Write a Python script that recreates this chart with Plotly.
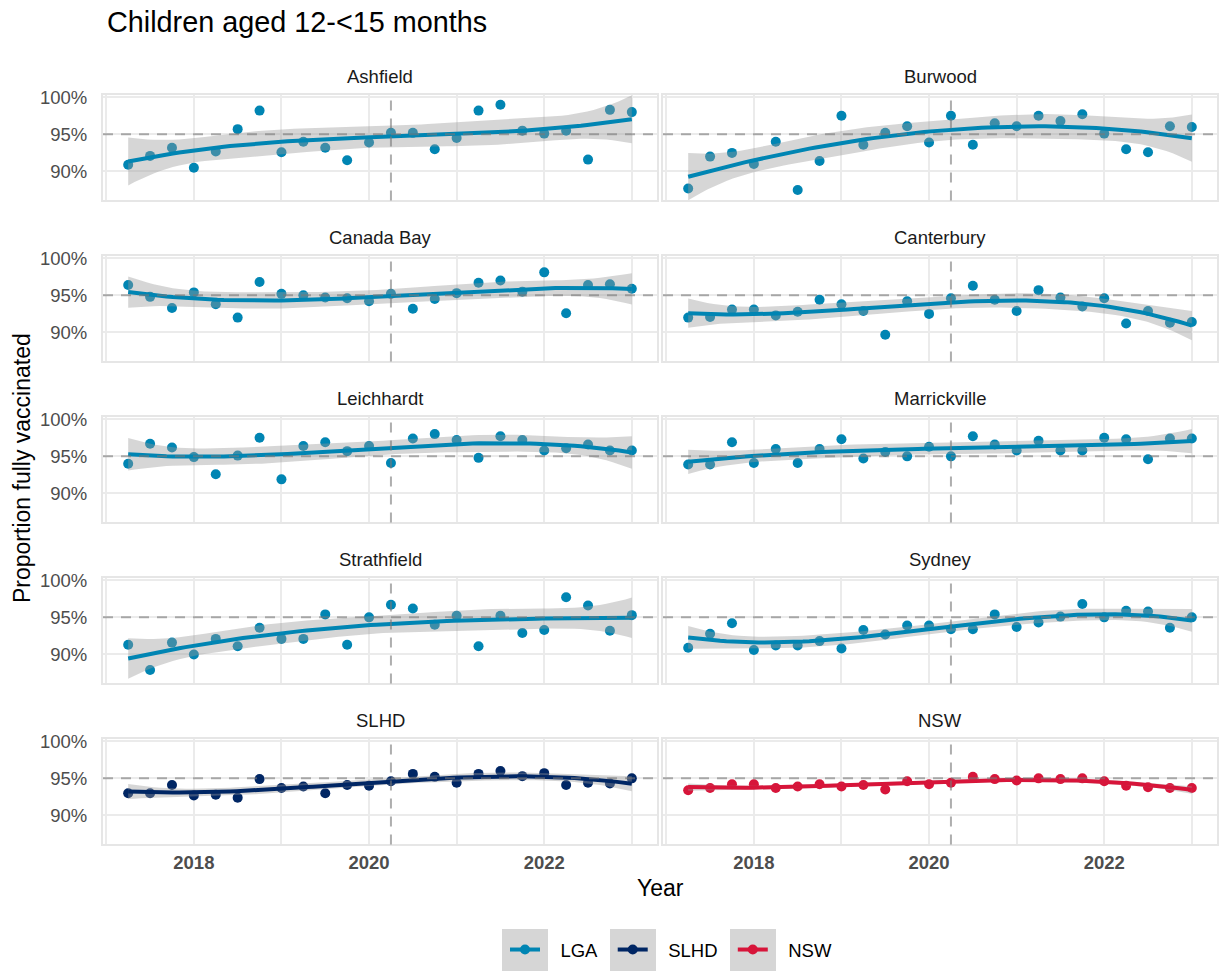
import numpy as np
import plotly.graph_objects as go
from plotly.subplots import make_subplots

# Reporting quarters (decimal years, Mar-2017 .. Dec-2022 quarter ends)
quarters = [2017.25, 2017.50, 2017.75, 2018.00, 2018.25, 2018.50, 2018.75, 2019.00,
            2019.25, 2019.50, 2019.75, 2020.00, 2020.25, 2020.50, 2020.75, 2021.00,
            2021.25, 2021.50, 2021.75, 2022.00, 2022.25, 2022.50, 2022.75, 2023.00]

# Proportion fully vaccinated (%), children aged 12-<15 months
ashfield = [90.9, 92.1, 93.2, 90.5, 92.7, 95.7, 98.2, 92.6, 94.0, 93.2, 91.5, 93.9,
            95.2, 95.2, 93.0, 94.5, 98.2, 99.0, 95.5, 95.1, 95.5, 91.6, 98.3, 98.0]
burwood = [87.7, 92.0, 92.5, 91.0, 94.0, 87.5, 91.4, 97.5, 93.6, 95.2, 96.1, 93.9,
           97.5, 93.6, 96.5, 96.1, 97.5, 96.8, 97.7, 95.1, 93.0, 92.6, 96.1, 96.0]
canada_bay = [96.4, 94.8, 93.3, 95.4, 93.8, 92.0, 96.8, 95.2, 95.0, 94.7, 94.6, 94.2,
              95.2, 93.2, 94.5, 95.3, 96.7, 97.0, 95.5, 98.1, 92.6, 96.4, 96.5, 95.9]
canterbury = [92.0, 92.1, 93.1, 93.1, 92.3, 92.8, 94.4, 93.8, 92.9, 89.7, 94.2, 92.5,
              94.6, 96.3, 94.4, 92.9, 95.7, 94.7, 93.5, 94.6, 91.2, 92.9, 91.3, 91.4]
leichhardt = [94.0, 96.7, 96.2, 94.9, 92.6, 95.1, 97.5, 91.9, 96.4, 96.9, 95.7, 96.4,
              94.1, 97.4, 98.0, 97.2, 94.8, 97.7, 97.2, 95.8, 96.1, 96.6, 95.8, 95.8]
marrickville = [93.9, 93.9, 96.9, 94.1, 96.0, 94.1, 96.0, 97.3, 94.7, 95.6, 95.0, 96.3,
                95.0, 97.7, 96.6, 95.8, 97.1, 95.8, 95.8, 97.5, 97.3, 94.6, 97.4, 97.4]
strathfield = [91.3, 87.9, 91.6, 90.0, 92.1, 91.1, 93.6, 92.1, 92.1, 95.4, 91.3, 95.0,
               96.7, 96.2, 94.0, 95.2, 91.1, 95.2, 92.9, 93.3, 97.7, 96.6, 93.2, 95.3]
sydney = [90.9, 92.8, 94.2, 90.6, 91.2, 91.2, 91.8, 90.8, 93.3, 92.7, 93.9, 93.9,
          93.4, 93.4, 95.4, 93.7, 94.3, 95.1, 96.8, 95.0, 95.9, 95.8, 93.6, 95.0]
slhd = [93.0, 93.0, 94.1, 92.7, 92.8, 92.4, 94.9, 93.7, 93.9, 93.0, 94.1, 94.0,
        94.6, 95.6, 95.2, 94.4, 95.6, 96.0, 95.3, 95.7, 94.1, 94.4, 94.3, 95.0]
nsw = [93.4, 93.7, 94.2, 94.2, 93.7, 93.9, 94.2, 93.9, 94.1, 93.5, 94.6, 94.2,
       94.4, 95.2, 94.9, 94.7, 95.0, 94.9, 95.0, 94.6, 94.0, 93.8, 93.7, 93.7]

panels = [("Ashfield", ashfield, "LGA"), ("Burwood", burwood, "LGA"),
          ("Canada Bay", canada_bay, "LGA"), ("Canterbury", canterbury, "LGA"),
          ("Leichhardt", leichhardt, "LGA"), ("Marrickville", marrickville, "LGA"),
          ("Strathfield", strathfield, "LGA"), ("Sydney", sydney, "LGA"),
          ("SLHD", slhd, "SLHD"), ("NSW", nsw, "NSW")]

group_colours = {"LGA": "#0085B3", "SLHD": "#002664", "NSW": "#D7153A"}
covid_start = 2020.25
target = 95

FONT = "Liberation Sans, Arial, sans-serif"
W, H = 1224, 971


def t975(df):
    """Upper 97.5% point of Student's t (Cornish-Fisher expansion)."""
    z = 1.959963985
    g1 = (z**3 + z) / 4
    g2 = (5 * z**5 + 16 * z**3 + 3 * z) / 96
    g3 = (3 * z**7 + 19 * z**5 + 17 * z**3 - 15 * z) / 384
    g4 = (79 * z**9 + 776 * z**7 + 1482 * z**5 - 1920 * z**3 - 945 * z) / 92160
    return z + g1 / df + g2 / df**2 + g3 / df**3 + g4 / df**4


def trend_band(x, y, degree=3, n_grid=80):
    """Cubic polynomial trend with a 95% confidence band for the mean."""
    x = np.asarray(x, float)
    y = np.asarray(y, float)
    n = len(x)
    mu, sd = x.mean(), x.std()
    X = np.vander((x - mu) / sd, degree + 1)
    beta = np.linalg.lstsq(X, y, rcond=None)[0]
    resid = y - X @ beta
    df = n - degree - 1
    sigma2 = resid @ resid / df
    cov = np.linalg.inv(X.T @ X) * sigma2
    grid = np.linspace(x.min(), x.max(), n_grid)
    Xg = np.vander((grid - mu) / sd, degree + 1)
    fit = Xg @ beta
    se = np.sqrt(np.einsum("ij,jk,ik->i", Xg, cov, Xg))
    t = t975(df)
    return grid, fit, fit - t * se, fit + t * se


# Panel geometry (pixels)
col_x = [(103, 657), (663, 1217)]
row_top0, row_pitch, panel_h = 95.4, 161.0, 105.0

fig = make_subplots(rows=5, cols=2)

for k, (name, vals, grp) in enumerate(panels):
    r, c = k // 2 + 1, k % 2 + 1
    colour = group_colours[grp]
    fig.add_trace(go.Scatter(x=quarters, y=vals, mode="markers",
                             marker=dict(color=colour, size=10),
                             showlegend=False, hoverinfo="x+y"), row=r, col=c)
    gx, fit, lo, hi = trend_band(quarters, vals)
    fig.add_trace(go.Scatter(x=np.concatenate([gx, gx[::-1]]),
                             y=np.concatenate([hi, lo[::-1]]),
                             fill="toself", fillcolor="rgba(153,153,153,0.4)",
                             line=dict(width=0), mode="lines",
                             showlegend=False, hoverinfo="skip"), row=r, col=c)
    fig.add_trace(go.Scatter(x=gx, y=fit, mode="lines",
                             line=dict(color=colour, width=4),
                             showlegend=False, hoverinfo="skip"), row=r, col=c)

    x0, x1 = col_x[c - 1]
    top = row_top0 + (r - 1) * row_pitch
    bot = top + panel_h
    fig.update_xaxes(domain=[x0 / W, x1 / W], row=r, col=c)
    fig.update_yaxes(domain=[1 - bot / H, 1 - top / H], row=r, col=c)
    fig.add_annotation(text=name, x=(x0 + x1) / 2 / W, y=1 - (top - 19) / H,
                       xref="paper", yref="paper", showarrow=False,
                       xanchor="center", yanchor="middle",
                       font=dict(family=FONT, size=18.5, color="#1A1A1A"))

# Legend entries (non-breaking spaces set the gap between key and label)
lead, trail = "\u00a0\u00a0\u00a0", "\u00a0\u00a0"
for grp in ["LGA", "SLHD", "NSW"]:
    fig.add_trace(go.Scatter(x=[None], y=[None], mode="lines+markers",
                             name=lead + grp + trail,
                             line=dict(color=group_colours[grp], width=4),
                             marker=dict(color=group_colours[grp], size=10),
                             showlegend=True), row=1, col=1)

# Reference lines: 95% target and start of COVID-19 period
dash_line = dict(color="rgba(120,120,120,0.6)", width=2, dash="10px,8px")
fig.add_hline(y=target, line=dash_line, layer="above", row="all", col="all")
fig.add_vline(x=covid_start, line=dash_line, layer="above", row="all", col="all")

year_ticks = [2017, 2018, 2019, 2020, 2021, 2022, 2023]
year_text = ["" if y % 2 else f"<b>{y}</b>" for y in year_ticks]
fig.update_xaxes(range=[2016.9625, 2023.2875], tickvals=year_ticks, ticktext=year_text,
                 showgrid=True, gridcolor="#EBEBEB", gridwidth=2, zeroline=False,
                 showline=True, mirror=True, linecolor="#E6E6E6", linewidth=2,
                 ticks="", showticklabels=False,
                 tickfont=dict(family=FONT, size=18.5, color="#4D4D4D"))
fig.update_xaxes(showticklabels=True, ticklabelstandoff=0, row=5)
fig.update_yaxes(range=[86.1, 100.25], tickvals=[90, 95, 100],
                 ticktext=["90%", "95%", "100%"],
                 showgrid=True, gridcolor="#EBEBEB", gridwidth=2, zeroline=False,
                 showline=True, mirror=True, linecolor="#E6E6E6", linewidth=2,
                 ticks="", showticklabels=False,
                 tickfont=dict(family=FONT, size=18.5, color="#4D4D4D"))
fig.update_yaxes(showticklabels=True, ticklabelstandoff=10, col=1)

fig.add_annotation(text="Children aged 12-<15 months", x=105 / W, y=1 - 22 / H,
                   xref="paper", yref="paper", showarrow=False,
                   xanchor="left", yanchor="middle",
                   font=dict(family=FONT, size=28.8, color="#000000"))
fig.add_annotation(text="Year", x=660 / W, y=1 - 888 / H, xref="paper", yref="paper",
                   showarrow=False, xanchor="center", yanchor="middle",
                   font=dict(family=FONT, size=23, color="#000000"))
fig.add_annotation(text="Proportion fully vaccinated", x=22 / W, y=1 - 468 / H,
                   xref="paper", yref="paper", showarrow=False, textangle=-90,
                   xanchor="center", yanchor="middle",
                   font=dict(family=FONT, size=23, color="#000000"))

# Grey key backgrounds behind legend symbols
for cx in [525, 633, 753]:
    fig.add_shape(type="rect", xref="paper", yref="paper",
                  x0=(cx - 23) / W, x1=(cx + 23) / W, y0=1 - 971 / H, y1=1 - 929 / H,
                  fillcolor="#D6D6D6", line=dict(width=0), layer="below")

fig.update_layout(
    width=W, height=H, plot_bgcolor="white", paper_bgcolor="white",
    margin=dict(l=0, r=0, t=0, b=0, autoexpand=False),
    font=dict(family=FONT, color="#1A1A1A"),
    legend=dict(orientation="h", x=505 / W, xanchor="left", y=1 - 950 / H,
                yanchor="middle", font=dict(family=FONT, size=18.5, color="#000000"),
                bgcolor="rgba(0,0,0,0)", itemwidth=30),
)

fig.write_html("out.html")
